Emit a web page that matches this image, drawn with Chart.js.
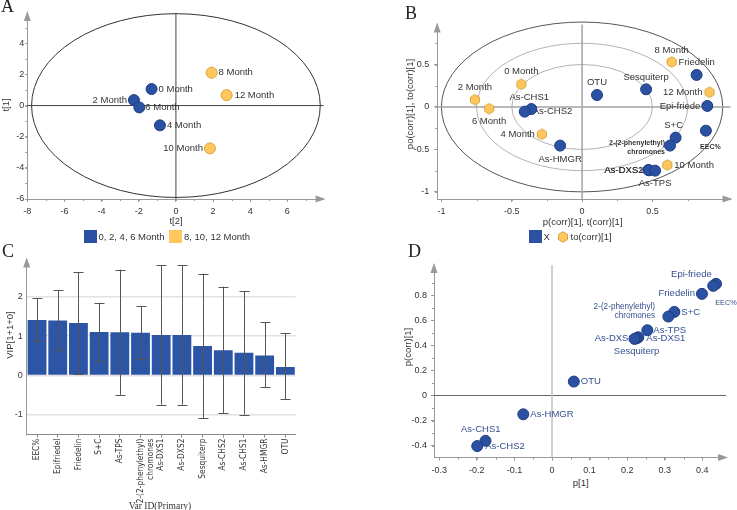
<!DOCTYPE html>
<html>
<head>
<meta charset="utf-8">
<script src="https://cdn.jsdelivr.net/npm/chart.js@4.4.1/dist/chart.umd.min.js"></script>
<style>
  body { margin: 0; background: #fff; }
  #page { position: relative; width: 737px; height: 510px; overflow: hidden; font-family: "Liberation Sans", Arial, sans-serif; color: #333; }
  canvas { position: absolute; }
  .t { position: absolute; font-size: 9.5px; line-height: 1.15; white-space: nowrap; color: #333; }
  .letter { position: absolute; font-family: "Liberation Serif", "Times New Roman", serif; font-size: 18px; line-height: 18px; color: #222; }
  .sw { position: absolute; width: 13px; height: 13px; }
</style>
</head>
<body>
<div id="page">
  <canvas id="chartA" width="340" height="215" style="left:0;top:0"></canvas>
  <canvas id="chartB" width="367" height="215" style="left:370px;top:0"></canvas>
  <canvas id="chartC" width="300" height="260" style="left:0;top:250px"></canvas>
  <canvas id="chartD" width="367" height="225" style="left:370px;top:250px"></canvas>
  <div class="letter" style="left:1px;top:-3px">A</div>
  <div class="letter" style="left:405px;top:4px">B</div>
  <div class="letter" style="left:2px;top:242px">C</div>
  <div class="letter" style="left:408px;top:242px">D</div>
</div>
<script>
// ---------- A: score plot t[2] / t[1]
const aMonths = ['0 Month', '2 Month', '4 Month', '6 Month', '8 Month', '10 Month', '12 Month'];
const aT2 = [-1.31, -2.26, -0.86, -1.97, 1.92, 1.83, 2.73];
const aT1 = [1.06, 0.35, -1.27, -0.12, 2.11, -2.75, 0.67];
const aGroupOf = [0, 0, 0, 0, 1, 1, 1];
const aGroups = ['0, 2, 4, 6 Month', '8, 10, 12 Month'];
const aXTicks = [-8, -6, -4, -2, 0, 2, 4, 6];
const aYTicks = [-6, -4, -2, 0, 2, 4];
const aEllipse = [7.77, 5.9];

// ---------- B: loadings / correlation plot
const bVars = ['OTU', 'Sesquiterp', 'Friedelin', 'Epi-friede', 'EEC%', 'S+C', ['2-(2-phenylethyl)', 'chromones'],
  'As-DXS2', 'As-DXS1', 'As-TPS', 'As-HMGR', 'As-CHS1', 'As-CHS2'];
const bPcorr = [0.106, 0.455, 0.814, 0.89, 0.88, 0.665, 0.625, 0.471, 0.476, 0.519, -0.156, -0.361, -0.408];
const bPoCorr = [0.141, 0.208, 0.377, 0.012, -0.279, -0.361, -0.455, -0.742, -0.746, -0.75, -0.455, -0.024, -0.055];
const bMonths = ['0 Month', '2 Month', '4 Month', '6 Month', '8 Month', '10 Month', '12 Month'];
const bTcorr = [-0.432, -0.762, -0.286, -0.661, 0.637, 0.606, 0.906];
const bToCorr = [0.267, 0.086, -0.322, -0.02, 0.53, -0.683, 0.173];
const bSeries = ['X', 'to(corr)[1]'];
const bXTicks = [-1, -0.5, 0, 0.5];
const bYTicks = [-1, -0.5, 0, 0.5];
const bCircles = [1, 0.75, 0.5];

// ---------- C: VIP
const cVars = ['EEC%', 'Epifriedel', 'Friedelin', 'S+C', 'As-TPS', ['2-(2-phenylethyl)', 'chromones'],
  'As-DXS1', 'As-DXS2', 'Sesquiterp', 'As-CHS2', 'As-CHS1', 'As-HMGR', 'OTU'];
const cVip = [1.41, 1.40, 1.335, 1.108, 1.10, 1.09, 1.03, 1.03, 0.75, 0.645, 0.58, 0.51, 0.22];
const cErrHigh = [1.96, 2.17, 2.63, 1.85, 2.69, 1.76, 2.81, 2.81, 2.59, 2.26, 2.15, 1.36, 1.07];
const cErrLow = [0.865, 0.647, 0.04, 0.37, -0.49, 0.42, -0.74, -0.74, -1.09, -0.95, -0.99, -0.30, -0.605];
const cYTicks = [-1, 0, 1, 2];

// ---------- D: S-plot
const dVars = ['Epi-friede', 'EEC%', 'Friedelin', 'S+C', ['2-(2-phenylethyl)', 'chromones'], 'As-TPS',
  'As-DXS1', 'As-DXS2', 'Sesquiterp', 'OTU', 'As-HMGR', 'As-CHS1', 'As-CHS2'];
const dP = [0.4365, 0.429, 0.399, 0.3255, 0.3096, 0.2537, 0.2297, 0.2254, 0.2196, 0.058, -0.0764, -0.177, -0.199];
const dPcorr = [0.89, 0.874, 0.81, 0.666, 0.629, 0.52, 0.464, 0.456, 0.451, 0.111, -0.150, -0.361, -0.403];
const dXTicks = [-0.3, -0.2, -0.1, 0, 0.1, 0.2, 0.3, 0.4];
const dYTicks = [-0.4, -0.2, 0, 0.2, 0.4, 0.6, 0.8];

// label placement: [dx, dy, align, font, lineHeight]
const SMALL_BOLD = 'bold 7px "Liberation Sans", Arial, sans-serif';
const aLabelPos = [[7, 0, 'left'], [-7, 0, 'right'], [7, 0, 'left'], [6, 0, 'left'], [7, 0, 'left'], [-7, 0, 'right'], [8, 0, 'left']];
const bVarLabelPos = [[0, -12.5, 'center'], [0, -12, 'center'], [0, -12.5, 'center'], [-7, 0, 'right'],
  [4.5, 16, 'center', SMALL_BOLD], [-2, -12, 'center'], [-5, 1.5, 'right', SMALL_BOLD, 9],
  [-5, 0.5, 'right'], [-5.5, 0.5, 'right'], [0, 12.7, 'center'], [0, 13.7, 'center'], [-2, -12, 'center'], [8, 0, 'left']];
const bMonthLabelPos = [[0, -12.5, 'center'], [0, -12, 'center'], [-7, 0, 'right'], [0, 13, 'center'],
  [0, -12, 'center'], [7, 0, 'left'], [-7, 0, 'right']];
const dLabelPos = [[-4.3, -9.7, 'right'], [12.7, 16.7, 'center', '7.3px "Liberation Sans", Arial, sans-serif'],
  [-7, 0, 'right'], [7, 0, 'left'], [-13.3, -5.3, 'right', '8.2px "Liberation Sans", Arial, sans-serif', 9.3],
  [6, 0, 'left'], [8, 1, 'left'], [-3, 0, 'right'], [2, 12, 'center'], [7, 0, 'left'], [7, 0, 'left'],
  [-4.7, -11.7, 'center'], [8, 0, 'left']];

const BLUE = '#2B51A3', BLUE_EDGE = '#1E3C82', ORANGE = '#FFC75E', ORANGE_EDGE = '#D9A238';
const FONT = '"Liberation Sans", Arial, sans-serif';
const LABEL_FONT = '9.5px ' + FONT;
const TICK_FONT = { family: FONT, size: 9 };
const NARROW_FONT = { family: '"Liberation Sans Narrow", "Arial Narrow", "DejaVu Sans Condensed", ' + FONT, size: 8.3 };
const tickCb = v => String(Math.round(v * 100) / 100);

const hexImg = (() => {
  const c = document.createElement('canvas');
  c.width = 12; c.height = 12;
  const g = c.getContext('2d');
  g.beginPath();
  for (let k = 0; k < 6; k++) {
    const a = Math.PI / 2 + k * Math.PI / 3;
    const px = 6 + 5.2 * Math.cos(a), py = 6 + 5.2 * Math.sin(a);
    k ? g.lineTo(px, py) : g.moveTo(px, py);
  }
  g.closePath();
  g.fillStyle = ORANGE; g.fill();
  g.strokeStyle = ORANGE_EDGE; g.lineWidth = 1; g.stroke();
  return c;
})();

// ellipses, zero lines
const decor = {
  id: 'decor',
  beforeDatasetsDraw(chart, args, o) {
    const { ctx, chartArea: a, scales: { x, y } } = chart;
    ctx.save();
    const cx = x.getPixelForValue(0), cy = y.getPixelForValue(0);
    (o.ellipses || []).forEach(e => {
      ctx.beginPath();
      ctx.ellipse(cx, cy, x.getPixelForValue(e.rx) - cx, cy - y.getPixelForValue(e.ry), 0, 0, Math.PI * 2);
      ctx.strokeStyle = e.color; ctx.lineWidth = e.width; ctx.stroke();
    });
    if (o.hLine) {
      ctx.beginPath(); ctx.moveTo(a.left, cy); ctx.lineTo(a.right, cy);
      ctx.strokeStyle = o.hLine[0]; ctx.lineWidth = o.hLine[1]; ctx.stroke();
    }
    if (o.vLine) {
      ctx.beginPath(); ctx.moveTo(cx, a.top); ctx.lineTo(cx, a.bottom);
      ctx.strokeStyle = o.vLine[0]; ctx.lineWidth = o.vLine[1]; ctx.stroke();
    }
    ctx.restore();
  },
  afterDraw(chart, args, o) {
    const { ctx, chartArea: a, scales: { x, y } } = chart;
    ctx.save();
    ctx.fillStyle = '#999'; ctx.strokeStyle = '#999'; ctx.lineWidth = 1;
    if (o.arrowX) {
      ctx.beginPath();
      ctx.moveTo(a.right + 2, a.bottom); ctx.lineTo(a.right - 8, a.bottom - 3.5); ctx.lineTo(a.right - 8, a.bottom + 3.5);
      ctx.closePath(); ctx.fill();
    }
    if (o.arrowY) {
      ctx.beginPath();
      ctx.moveTo(a.left, a.top - 2); ctx.lineTo(a.left - 3.5, a.top + 8); ctx.lineTo(a.left + 3.5, a.top + 8);
      ctx.closePath(); ctx.fill();
    }
    // minor ticks
    if (o.minorX) {
      ctx.beginPath();
      for (let v = Math.ceil(x.min / o.minorX) * o.minorX; v <= x.max - 0.3 * o.minorX; v += o.minorX) {
        const px = Math.round(x.getPixelForValue(v)) + 0.5;
        ctx.moveTo(px, a.bottom); ctx.lineTo(px, a.bottom + 2);
      }
      ctx.stroke();
    }
    if (o.minorY) {
      ctx.beginPath();
      for (let v = Math.ceil(y.min / o.minorY) * o.minorY; v <= y.max - 0.3 * o.minorY; v += o.minorY) {
        const py = Math.round(y.getPixelForValue(v)) + 0.5;
        ctx.moveTo(a.left, py); ctx.lineTo(a.left - 2, py);
      }
      ctx.stroke();
    }
    ctx.restore();
  }
};

const pointLabels = {
  id: 'pointLabels',
  beforeDatasetsDraw(chart) {
    const ctx = chart.ctx;
    chart.data.datasets.forEach((ds, di) => {
      if (!ds.labels) return;
      chart.getDatasetMeta(di).data.forEach((pt, i) => {
        const [dx, dy, align, font, lh] = ds.labelPos[i];
        const lines = [].concat(ds.labels[i]);
        const step = lh || 10;
        ctx.save();
        ctx.font = font || LABEL_FONT;
        ctx.fillStyle = ds.labelColor;
        ctx.textAlign = align; ctx.textBaseline = 'middle';
        lines.forEach((s, k) => {
          ctx.fillText(s, pt.x + dx, pt.y + dy + (k - (lines.length - 1) / 2) * step);
        });
        ctx.restore();
      });
    });
  }
};

const errorBars = {
  id: 'errorBars',
  afterDatasetsDraw(chart) {
    const { ctx, scales: { y } } = chart;
    ctx.save();
    ctx.strokeStyle = '#555'; ctx.lineWidth = 1;
    chart.getDatasetMeta(0).data.forEach((bar, i) => {
      const hi = y.getPixelForValue(cErrHigh[i]), lo = y.getPixelForValue(cErrLow[i]);
      const bx = Math.round(bar.x) + 0.5;
      ctx.beginPath();
      ctx.moveTo(bx, hi); ctx.lineTo(bx, lo);
      ctx.moveTo(bx - 5, Math.round(hi) + 0.5); ctx.lineTo(bx + 5, Math.round(hi) + 0.5);
      ctx.moveTo(bx - 5, Math.round(lo) + 0.5); ctx.lineTo(bx + 5, Math.round(lo) + 0.5);
      ctx.stroke();
    });
    ctx.restore();
  }
};

function linAxis(min, max, ticks, fit, tickLen, pad) {
  return {
    type: 'linear', min, max,
    afterBuildTicks: s => { s.ticks = ticks.map(v => ({ value: v })); },
    afterFit: fit,
    grid: { drawOnChartArea: false, drawTicks: true, tickLength: tickLen, tickColor: '#999' },
    border: { color: '#999' },
    ticks: { font: TICK_FONT, color: '#333', padding: pad, callback: tickCb, maxRotation: 0, autoSkip: false }
  };
}

const baseOpts = {
  responsive: false,
  animation: false,
  plugins: { legend: { display: false }, tooltip: { enabled: false } }
};

// ---------- chart A
const pts = (xs, ys, idx) => idx.map(i => ({ x: xs[i], y: ys[i] }));
const aIdx = g => aMonths.map((m, i) => i).filter(i => aGroupOf[i] === g);
new Chart(document.getElementById('chartA'), {
  type: 'scatter',
  data: {
    datasets: [0, 1].map(g => ({
      label: aGroups[g],
      data: pts(aT2, aT1, aIdx(g)),
      labels: aIdx(g).map(i => aMonths[i]),
      labelPos: aIdx(g).map(i => aLabelPos[i]),
      labelColor: '#333',
      pointRadius: 5.5,
      pointBorderWidth: 1,
      backgroundColor: g ? ORANGE : BLUE,
      borderColor: g ? ORANGE_EDGE : BLUE_EDGE
    }))
  },
  options: {
    ...baseOpts,
    layout: { padding: { left: 0, top: 12.9, right: 16.4, bottom: 0 } },
    scales: {
      x: linAxis(-8, 7.95, aXTicks, s => { s.height = 16; }, 3, 4),
      y: linAxis(-6, 5.95, aYTicks, s => { s.width = 27.3; }, 2, 1)
    },
    plugins: {
      ...baseOpts.plugins,
      decor: { ellipses: [{ rx: aEllipse[0], ry: aEllipse[1], color: '#333', width: 1 }], hLine: ['#444', 1], vLine: ['#444', 1],
        arrowX: true, arrowY: true, minorX: 1, minorY: 1 }
    }
  },
  plugins: [decor, pointLabels]
});

// ---------- chart B
const allIdx = arr => arr.map((v, i) => i);
new Chart(document.getElementById('chartB'), {
  type: 'scatter',
  data: {
    datasets: [
      {
        label: bSeries[0],
        data: pts(bPcorr, bPoCorr, allIdx(bVars)),
        labels: bVars, labelPos: bVarLabelPos, labelColor: '#333',
        pointRadius: 5.5, pointBorderWidth: 1, backgroundColor: BLUE, borderColor: BLUE_EDGE
      },
      {
        label: bSeries[1],
        data: pts(bTcorr, bToCorr, allIdx(bMonths)),
        labels: bMonths, labelPos: bMonthLabelPos, labelColor: '#333',
        pointStyle: hexImg
      }
    ]
  },
  options: {
    ...baseOpts,
    layout: { padding: { left: 0, top: 24.6, right: 5.2, bottom: 0 } },
    scales: {
      x: linAxis(-1.03, 1.055, bXTicks, s => { s.height = 15.9; }, 3, 4),
      y: linAxis(-1.085, 0.97, bYTicks, s => { s.width = 67.2; }, 3, 5)
    },
    plugins: {
      ...baseOpts.plugins,
      decor: {
        ellipses: [
          { rx: bCircles[0], ry: bCircles[0], color: '#555', width: 1 },
          { rx: bCircles[1], ry: bCircles[1], color: '#b3b3b3', width: 1 },
          { rx: bCircles[2], ry: bCircles[2], color: '#b3b3b3', width: 1 }
        ],
        hLine: ['#a3a3a3', 1.5], vLine: ['#a3a3a3', 1.5], arrowX: true, arrowY: true, minorX: 0.25, minorY: 0.25
      }
    }
  },
  plugins: [decor, pointLabels]
});

// ---------- chart C
new Chart(document.getElementById('chartC'), {
  type: 'bar',
  data: {
    labels: cVars,
    datasets: [{ label: 'VIP', data: cVip, backgroundColor: '#2C55A6', barPercentage: 0.91, categoryPercentage: 1 }]
  },
  options: {
    ...baseOpts,
    layout: { padding: { left: 0, top: 7.9, right: 4.3, bottom: 0 } },
    scales: {
      x: {
        afterFit: s => { s.height = 75.4; },
        grid: { drawOnChartArea: false, drawTicks: true, tickLength: 3, tickColor: '#888', offset: false },
        border: { color: '#888' },
        ticks: { font: NARROW_FONT, color: '#333', padding: 1, minRotation: 90, maxRotation: 90, autoSkip: false }
      },
      y: {
        type: 'linear', min: -1.5, max: 2.95,
        afterBuildTicks: s => { s.ticks = cYTicks.map(v => ({ value: v })); },
        afterFit: s => { s.width = 26.7; },
        grid: { color: '#e2e2e2', lineWidth: 1.5, drawTicks: false },
        border: { color: '#999' },
        ticks: { font: TICK_FONT, color: '#333', padding: 4, callback: tickCb }
      }
    },
    plugins: { ...baseOpts.plugins, decor: { arrowY: true } }
  },
  plugins: [decor, errorBars]
});

// ---------- chart D
new Chart(document.getElementById('chartD'), {
  type: 'scatter',
  data: {
    datasets: [{
      label: 'p[1] / p(corr)[1]',
      data: pts(dP, dPcorr, allIdx(dVars)),
      labels: dVars, labelPos: dLabelPos, labelColor: '#34508F',
      pointRadius: 5.5, pointBorderWidth: 1, backgroundColor: BLUE, borderColor: BLUE_EDGE
    }]
  },
  options: {
    ...baseOpts,
    layout: { padding: { left: 0, top: 15, right: 11, bottom: 0 } },
    scales: {
      x: linAxis(-0.314, 0.463, dXTicks, s => { s.height = 17.4; }, 3, 5),
      y: linAxis(-0.495, 1.04, dYTicks, s => { s.width = 64; }, 3, 4)
    },
    plugins: {
      ...baseOpts.plugins,
      decor: { hLine: ['#666', 1], vLine: ['#c2c2c2', 1.5], arrowX: true, arrowY: true, minorX: 0.05, minorY: 0.1 }
    }
  },
  plugins: [decor, pointLabels]
});

// ---------- titles, legends
const page = document.getElementById('page');
function addText(s, x, y, opt = {}) {
  const d = document.createElement('div');
  d.className = 't';
  d.textContent = s;
  d.style.left = x + 'px';
  d.style.top = y + 'px';
  const tx = opt.anchor === 'l' ? '0' : '-50%';
  d.style.transform = `translate(${tx},-50%)` + (opt.rot ? ' rotate(-90deg)' : '');
  if (opt.style) Object.assign(d.style, opt.style);
  page.appendChild(d);
  return d;
}
function addSwatch(x, y, color) {
  const d = document.createElement('div');
  d.className = 'sw';
  d.style.left = x + 'px'; d.style.top = y + 'px'; d.style.background = color;
  page.appendChild(d);
}

addText('t[2]', 176, 221);
addText('t[1]', 6, 105, { rot: true });
addSwatch(83.5, 230, BLUE);
addText(aGroups[0], 98.5, 236.5, { anchor: 'l' });
addSwatch(168.5, 230, ORANGE);
addText(aGroups[1], 184, 236.5, { anchor: 'l' });

addText('p(corr)[1], t(corr)[1]', 582.7, 221.7);
addText('po(corr)[1], to(corr)[1]', 409.5, 104, { rot: true });
addSwatch(529.3, 230, BLUE);
addText(bSeries[0], 543.5, 236.5, { anchor: 'l' });
const hx = document.createElement('canvas');
hx.width = 12; hx.height = 12;
hx.style.left = '556.5px'; hx.style.top = '230.5px';
hx.getContext('2d').drawImage(hexImg, 0, 0);
page.appendChild(hx);
addText(bSeries[1], 570.5, 236.5, { anchor: 'l' });

addText('VIP[1+1+0]', 10, 335, { rot: true });
addText('Var ID(Primary)', 160, 505.5, { style: { fontFamily: '"Liberation Serif", "Times New Roman", serif', fontSize: '9.5px' } });

addText('p[1]', 580.7, 482.7);
addText('p(corr)[1]', 408, 346.7, { rot: true });
</script>
</body>
</html>
